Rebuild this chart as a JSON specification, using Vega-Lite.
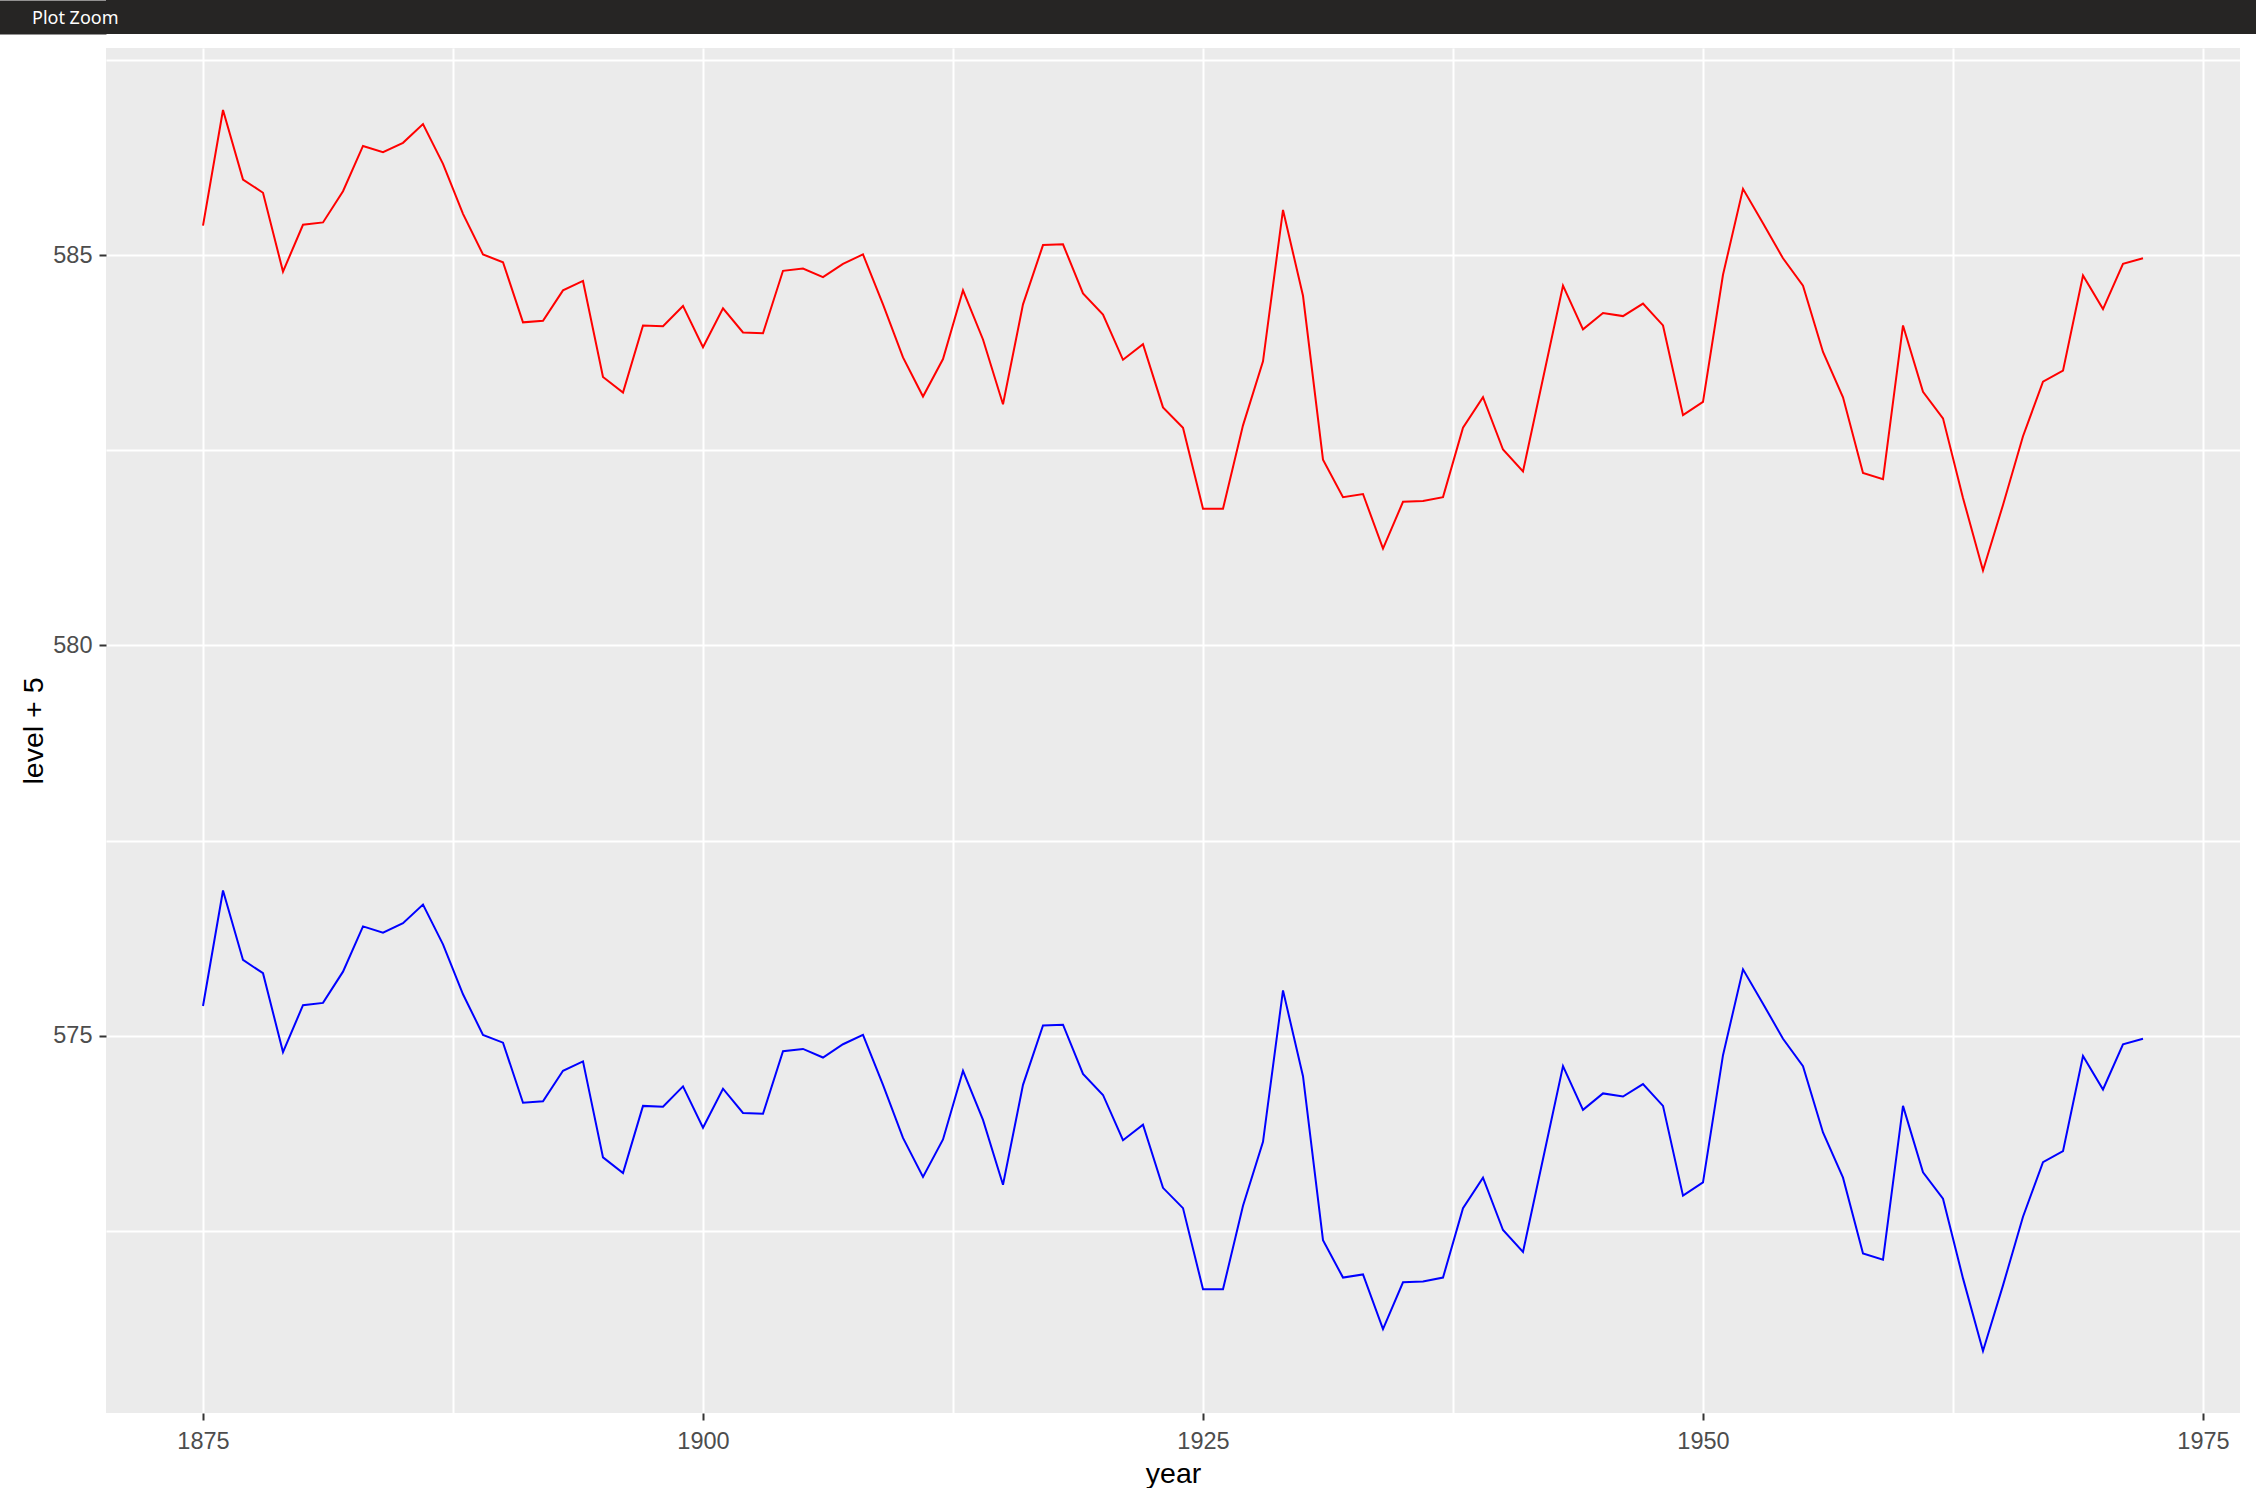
{
  "$schema": "https://vega.github.io/schema/vega-lite/v6.json",
  "padding": 0,
  "autosize": {"type": "pad"},
  "background": "#FFFFFF",
  "spacing": 14,
  "config": {"view": {"stroke": null}, "font": "Liberation Sans"},
  "vconcat": [
    {
      "width": 2150,
      "height": 34,
      "view": {"fill": "#262524", "stroke": null},
      "title": {"text": "Plot Zoom", "anchor": "start", "frame": "group", "orient": "top", "offset": -28, "dx": -74, "fontSize": 18, "fontWeight": "normal", "color": "#FFFFFF", "font": "Noto Sans"},
      "data": {"values": [{"v": 0}]},
      "mark": {"type": "point", "opacity": 0},
      "encoding": {
        "y": {
          "field": "v", "type": "quantitative",
          "axis": {"title": null, "labels": false, "ticks": false, "grid": false, "domain": true, "domainColor": "#262524", "domainWidth": 212, "domainCap": "butt", "offset": 106}
        }
      }
    },
    {
      "width": 2134,
      "height": 1365,
      "view": {"fill": "#EBEBEB", "stroke": null},
      "data": {"values": [
        {"year": 1875, "upper": 585.38, "lower": 575.38},
        {"year": 1876, "upper": 586.86, "lower": 576.86},
        {"year": 1877, "upper": 585.97, "lower": 575.97},
        {"year": 1878, "upper": 585.80, "lower": 575.80},
        {"year": 1879, "upper": 584.79, "lower": 574.79},
        {"year": 1880, "upper": 585.39, "lower": 575.39},
        {"year": 1881, "upper": 585.42, "lower": 575.42},
        {"year": 1882, "upper": 585.82, "lower": 575.82},
        {"year": 1883, "upper": 586.40, "lower": 576.40},
        {"year": 1884, "upper": 586.32, "lower": 576.32},
        {"year": 1885, "upper": 586.44, "lower": 576.44},
        {"year": 1886, "upper": 586.68, "lower": 576.68},
        {"year": 1887, "upper": 586.17, "lower": 576.17},
        {"year": 1888, "upper": 585.53, "lower": 575.53},
        {"year": 1889, "upper": 585.01, "lower": 575.01},
        {"year": 1890, "upper": 584.91, "lower": 574.91},
        {"year": 1891, "upper": 584.14, "lower": 574.14},
        {"year": 1892, "upper": 584.16, "lower": 574.16},
        {"year": 1893, "upper": 584.55, "lower": 574.55},
        {"year": 1894, "upper": 584.67, "lower": 574.67},
        {"year": 1895, "upper": 583.44, "lower": 573.44},
        {"year": 1896, "upper": 583.24, "lower": 573.24},
        {"year": 1897, "upper": 584.10, "lower": 574.10},
        {"year": 1898, "upper": 584.09, "lower": 574.09},
        {"year": 1899, "upper": 584.35, "lower": 574.35},
        {"year": 1900, "upper": 583.82, "lower": 573.82},
        {"year": 1901, "upper": 584.32, "lower": 574.32},
        {"year": 1902, "upper": 584.01, "lower": 574.01},
        {"year": 1903, "upper": 584.00, "lower": 574.00},
        {"year": 1904, "upper": 584.80, "lower": 574.80},
        {"year": 1905, "upper": 584.83, "lower": 574.83},
        {"year": 1906, "upper": 584.72, "lower": 574.72},
        {"year": 1907, "upper": 584.89, "lower": 574.89},
        {"year": 1908, "upper": 585.01, "lower": 575.01},
        {"year": 1909, "upper": 584.37, "lower": 574.37},
        {"year": 1910, "upper": 583.69, "lower": 573.69},
        {"year": 1911, "upper": 583.19, "lower": 573.19},
        {"year": 1912, "upper": 583.67, "lower": 573.67},
        {"year": 1913, "upper": 584.55, "lower": 574.55},
        {"year": 1914, "upper": 583.92, "lower": 573.92},
        {"year": 1915, "upper": 583.09, "lower": 573.09},
        {"year": 1916, "upper": 584.37, "lower": 574.37},
        {"year": 1917, "upper": 585.13, "lower": 575.13},
        {"year": 1918, "upper": 585.14, "lower": 575.14},
        {"year": 1919, "upper": 584.51, "lower": 574.51},
        {"year": 1920, "upper": 584.24, "lower": 574.24},
        {"year": 1921, "upper": 583.66, "lower": 573.66},
        {"year": 1922, "upper": 583.86, "lower": 573.86},
        {"year": 1923, "upper": 583.05, "lower": 573.05},
        {"year": 1924, "upper": 582.79, "lower": 572.79},
        {"year": 1925, "upper": 581.75, "lower": 571.75},
        {"year": 1926, "upper": 581.75, "lower": 571.75},
        {"year": 1927, "upper": 582.82, "lower": 572.82},
        {"year": 1928, "upper": 583.64, "lower": 573.64},
        {"year": 1929, "upper": 585.58, "lower": 575.58},
        {"year": 1930, "upper": 584.48, "lower": 574.48},
        {"year": 1931, "upper": 582.38, "lower": 572.38},
        {"year": 1932, "upper": 581.90, "lower": 571.90},
        {"year": 1933, "upper": 581.94, "lower": 571.94},
        {"year": 1934, "upper": 581.24, "lower": 571.24},
        {"year": 1935, "upper": 581.84, "lower": 571.84},
        {"year": 1936, "upper": 581.85, "lower": 571.85},
        {"year": 1937, "upper": 581.90, "lower": 571.90},
        {"year": 1938, "upper": 582.79, "lower": 572.79},
        {"year": 1939, "upper": 583.18, "lower": 573.18},
        {"year": 1940, "upper": 582.51, "lower": 572.51},
        {"year": 1941, "upper": 582.23, "lower": 572.23},
        {"year": 1942, "upper": 583.42, "lower": 573.42},
        {"year": 1943, "upper": 584.61, "lower": 574.61},
        {"year": 1944, "upper": 584.05, "lower": 574.05},
        {"year": 1945, "upper": 584.26, "lower": 574.26},
        {"year": 1946, "upper": 584.22, "lower": 574.22},
        {"year": 1947, "upper": 584.38, "lower": 574.38},
        {"year": 1948, "upper": 584.10, "lower": 574.10},
        {"year": 1949, "upper": 582.95, "lower": 572.95},
        {"year": 1950, "upper": 583.12, "lower": 573.12},
        {"year": 1951, "upper": 584.75, "lower": 574.75},
        {"year": 1952, "upper": 585.85, "lower": 575.85},
        {"year": 1953, "upper": 585.41, "lower": 575.41},
        {"year": 1954, "upper": 584.96, "lower": 574.96},
        {"year": 1955, "upper": 584.61, "lower": 574.61},
        {"year": 1956, "upper": 583.76, "lower": 573.76},
        {"year": 1957, "upper": 583.18, "lower": 573.18},
        {"year": 1958, "upper": 582.21, "lower": 572.21},
        {"year": 1959, "upper": 582.13, "lower": 572.13},
        {"year": 1960, "upper": 584.10, "lower": 574.10},
        {"year": 1961, "upper": 583.25, "lower": 573.25},
        {"year": 1962, "upper": 582.91, "lower": 572.91},
        {"year": 1963, "upper": 581.89, "lower": 571.89},
        {"year": 1964, "upper": 580.96, "lower": 570.96},
        {"year": 1965, "upper": 581.80, "lower": 571.80},
        {"year": 1966, "upper": 582.68, "lower": 572.68},
        {"year": 1967, "upper": 583.38, "lower": 573.38},
        {"year": 1968, "upper": 583.52, "lower": 573.52},
        {"year": 1969, "upper": 584.74, "lower": 574.74},
        {"year": 1970, "upper": 584.31, "lower": 574.31},
        {"year": 1971, "upper": 584.89, "lower": 574.89},
        {"year": 1972, "upper": 584.96, "lower": 574.96}
      ]},
      "transform": [{"fold": ["upper", "lower"], "as": ["series", "value"]}],
      "mark": {"type": "line", "strokeWidth": 2, "clip": true},
      "encoding": {
        "x": {
          "field": "year", "type": "quantitative",
          "scale": {"domain": [1870.15, 1976.85], "nice": false, "zero": false},
          "axis": {
            "values": [1875, 1887.5, 1900, 1912.5, 1925, 1937.5, 1950, 1962.5, 1975],
            "labelExpr": "datum.value % 25 === 0 ? format(datum.value, 'd') : ''",
            "title": "year",
            "titleFont": "Liberation Sans",
            "titleFontSize": 28.5,
            "titleFontWeight": "normal",
            "titleColor": "#000000",
            "titleY": 69,
            "titleBaseline": "alphabetic",
            "labelFont": "Liberation Sans",
            "labelFontSize": 23.5,
            "labelColor": "#4D4D4D",
            "labelPadding": 9,
            "labelFlush": false,
            "labelOverlap": false,
            "tickSize": 7,
            "tickWidth": 2,
            "tickColor": {"condition": {"test": "datum.value % 25 !== 0", "value": "rgba(0,0,0,0)"}, "value": "#333333"},
            "domain": false,
            "grid": true,
            "gridColor": "#FFFFFF",
            "gridWidth": 2,
            "gridOpacity": 1
          }
        },
        "y": {
          "field": "value", "type": "quantitative",
          "scale": {"domain": [570.165, 587.655], "nice": false, "zero": false},
          "axis": {
            "values": [572.5, 575, 577.5, 580, 582.5, 585, 587.5],
            "labelExpr": "datum.value % 5 === 0 ? format(datum.value, 'd') : ''",
            "title": "level + 5",
            "titleFont": "Liberation Sans",
            "titleFontSize": 28.5,
            "titleFontWeight": "normal",
            "titleColor": "#000000",
            "titleX": -64,
            "titleBaseline": "alphabetic",
            "labelFont": "Liberation Sans",
            "labelFontSize": 23.5,
            "labelColor": "#4D4D4D",
            "labelPadding": 7,
            "labelFlush": false,
            "labelOverlap": false,
            "tickSize": 7,
            "tickWidth": 2,
            "tickColor": {"condition": {"test": "datum.value % 5 !== 0", "value": "rgba(0,0,0,0)"}, "value": "#333333"},
            "domain": false,
            "grid": true,
            "gridColor": "#FFFFFF",
            "gridWidth": 2,
            "gridOpacity": 1
          }
        },
        "color": {
          "field": "series", "type": "nominal",
          "scale": {"domain": ["upper", "lower"], "range": ["#FF0000", "#0000FF"]},
          "legend": null
        }
      }
    }
  ]
}
